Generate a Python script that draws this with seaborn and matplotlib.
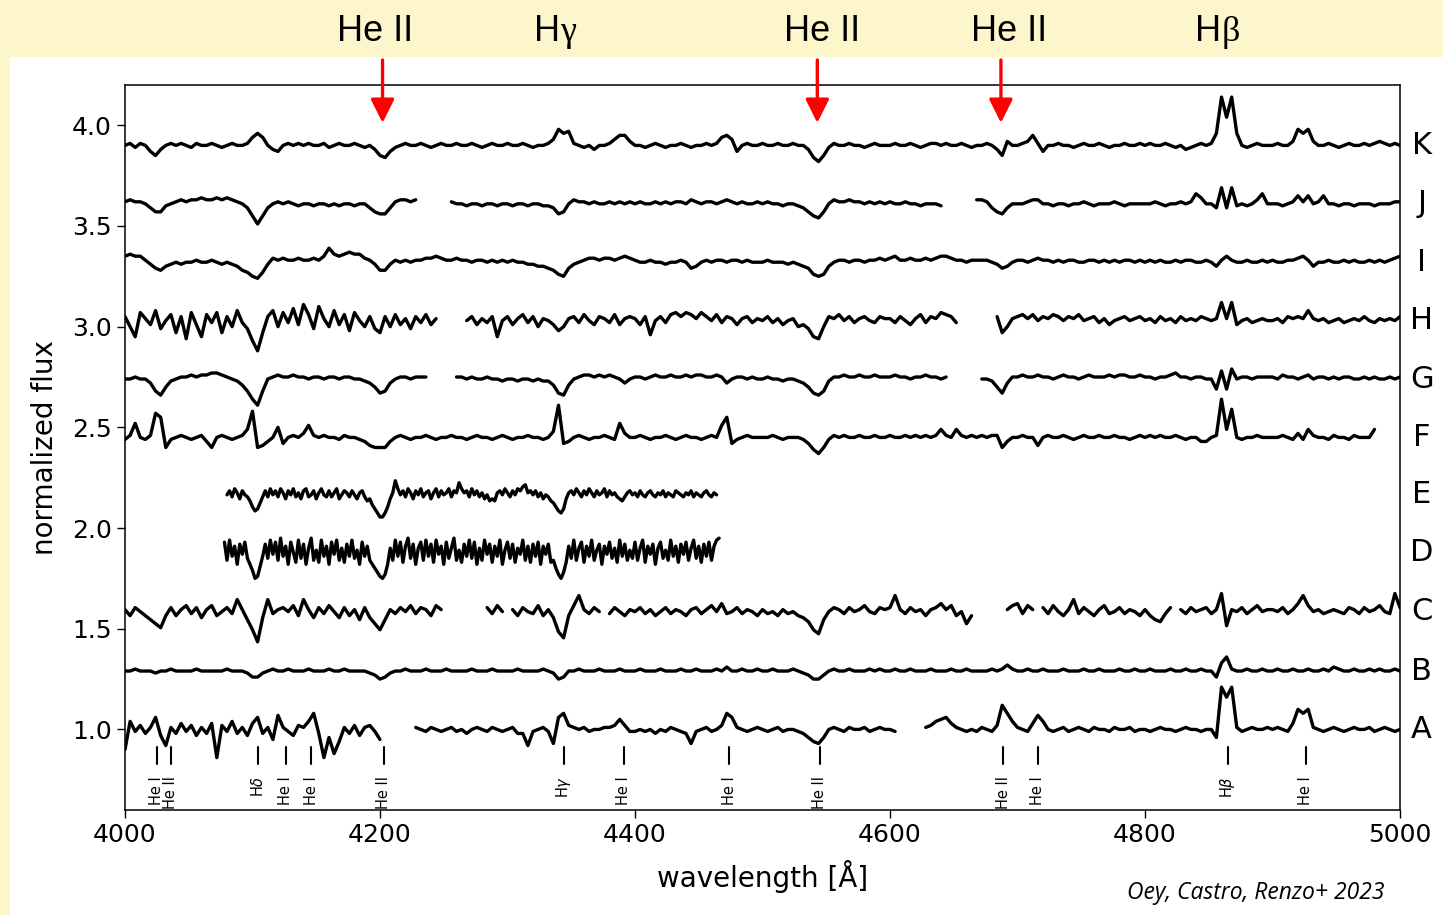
import numpy as np
import pandas as pd
import matplotlib
matplotlib.use("Agg")
import matplotlib.pyplot as plt
import matplotlib.transforms as mtransforms
from matplotlib.patches import Rectangle
import seaborn as sns

# ---------------------------------------------------------------------------
# Spectra: flux deviations from each star's offset level, in units of 0.01.
# Most stars are sampled every 4 Å from 4000 Å (one row per 100 Å);
# D and E are sampled every 2 Å over their shorter range.  None = no data.
# ---------------------------------------------------------------------------
WAVE_START = 4000.0
WAVE_STEP = 4.0
D_START, D_STEP = 4078.0, 2.0
E_START, E_STEP = 4080.0, 2.0

STARS = ["A", "B", "C", "D", "E", "F", "G", "H", "I", "J", "K"]
OFFSETS = [1.00, 1.29, 1.585, 1.88, 2.165, 2.45, 2.74, 3.03, 3.32, 3.61, 3.90]

FLUX_K = [
    0, 1, -1, 1, 0, -3, -5, -2, 0, 1, 0, 1, 0, -1, 1, 0, 0, 1, 0, -1, 0, 1, 0, 0, 1,
    4, 6, 4, 0, -2, -3, 0, 1, 0, 1, 0, 1, 0, 0, 1, -1, 0, 1, 0, 0, 1, 0, -1, 0, -2,
    -5, -6, -3, -1, 0, 1, 0, 0, 1, 0, -1, 0, 1, 0, 0, 1, 0, 0, 1, 0, -1, 0, 1, 0, 0,
    1, 0, 0, 1, 0, -1, 0, 0, 1, 3, 8, 6, 7, 1, 0, -1, 0, -2, 0, 0, 1, 3, 5, 5, 2,
    0, 0, -1, 0, 1, 0, -1, 0, 0, 1, 0, -1, 0, 0, 1, 0, 1, 4, 5, 3, -3, 0, 1, 0, 0,
    1, 0, 0, 1, 0, 0, 1, 0, 0, -2, -6, -8, -5, -1, 1, 0, 0, 1, 0, 0, -1, 0, 1, 0, 0,
    0, 1, 0, 0, 1, 0, -1, 0, 1, 1, 0, 1, 0, 0, 1, 0, -1, 0, 0, 1, 0, -2, -5, 2, 0,
    0, 1, 2, 5, 1, -3, 0, 0, 1, 0, 0, -1, 0, 1, 0, 0, 1, 0, -1, 0, 0, 1, 0, 0, 1,
    0, 1, 0, 0, 1, 0, -1, 0, -2, -1, 0, 1, 0, 1, 6, 24, 14, 24, 6, 0, -1, 0, 1, 0, 0,
    0, 1, 0, 0, 2, 8, 6, 8, 2, 0, 0, 1, 0, -1, 0, 1, 0, 0, 1, 0, 1, 2, 1, 0, 1,
    0,
]

FLUX_J = [
    1, 2, 1, 1, 0, -2, -4, -4, -1, 0, 1, 2, 1, 2, 2, 3, 2, 2, 3, 2, 3, 2, 1, 0, -2,
    -6, -10, -6, -2, 0, 1, 0, 1, 0, -1, 0, 0, -1, 0, 0, -1, 0, -1, 0, 0, -1, 0, 0, -2, -4,
    -5, -5, -2, 1, 2, 2, 1, 2, None, None, None, None, None, None, 1, 0, 0, -1, 0, 0, -1, 0, 0, -1, 0,
    0, -1, 0, 0, -1, 0, 0, -1, -1, -2, -5, -4, 0, 2, 1, 1, 0, 1, 0, 0, 1, 0, 1, 0, 1,
    0, 1, 0, 0, 1, 0, 1, 0, 1, 1, 0, 2, 1, 0, 1, 1, 0, 1, 2, 1, 0, 1, 0, 0, 1,
    0, 1, 0, 0, -1, 0, 0, -1, -2, -4, -6, -7, -4, 0, 2, 1, 1, 2, 1, 1, 0, 1, 0, 1, 0,
    1, 0, 0, 1, 0, 0, -1, 0, 0, 0, -1, None, None, None, None, None, None, 2, 2, 1, -2, -4, -5, -2, 0,
    0, 0, 1, 2, 2, 0, 0, -1, 0, 0, -1, 0, 0, 1, 0, -1, 0, 0, 0, 1, 0, -1, 0, 0, 0,
    0, 0, 1, 0, -1, 0, 0, 1, 0, 1, 5, 3, 0, 0, -2, 8, -2, 8, -1, 0, -1, 0, 2, 5, 0,
    0, 0, -1, 0, 1, 4, 1, 4, 0, 1, 4, 0, 0, -1, 0, 0, -1, 0, 0, 0, -1, 0, 0, 0, 1,
    1,
]

FLUX_I = [
    3, 4, 3, 3, 1, -1, -3, -4, -2, -1, 0, -1, 0, 0, 1, 0, 0, 1, 0, -1, 0, -1, -2, -4, -5,
    -7, -8, -5, -1, 2, 1, 2, 1, 1, 2, 1, 1, 2, 1, 3, 7, 4, 3, 4, 5, 4, 4, 2, 1, -1,
    -4, -4, -1, 1, 0, 1, 0, 1, 1, 2, 2, 3, 2, 1, 1, 2, 1, 1, 0, 1, 1, 0, 1, 0, 1,
    0, 1, 0, 0, -1, -1, -2, -2, -3, -4, -6, -7, -3, -1, 0, 1, 2, 2, 1, 2, 2, 1, 2, 3, 2,
    1, 0, 0, 1, 0, 0, -1, 0, 0, 1, 0, -3, -2, 0, 1, 0, 1, 1, 0, 1, 1, 0, 1, 0, 0,
    0, 1, 0, 0, 0, -1, 0, -1, -2, -3, -6, -7, -6, -2, 0, 1, 1, 0, 1, 1, 0, 1, 1, 2, 1,
    2, 3, 1, 1, 2, 1, 1, 2, 1, 2, 3, 3, 2, 1, 1, 0, 1, 1, 1, 1, 0, -1, -3, -2, 0,
    1, 1, 0, 1, 2, 1, 1, 0, 1, 0, 1, 1, 0, 0, 1, 1, 0, 1, 0, 1, 0, 1, 1, 0, 1,
    0, 1, 0, 1, 0, 0, 1, 0, 1, 1, 0, 0, 1, 0, -2, 1, 3, 1, 0, 0, 1, 0, 0, 1, 0,
    1, 0, 0, 1, 1, 2, 3, 1, -2, 0, 0, 1, 0, 0, 1, 0, 1, 0, 0, 1, 0, 1, 0, 1, 2,
    3,
]

FLUX_H = [
    2, -3, -8, 4, 1, -2, 5, -4, 0, 3, -6, 2, -9, 4, -2, -8, 3, -1, 4, -6, 2, -3, 5, -1, -4,
    -10, -15, -6, 2, 5, -3, 4, -1, 6, -2, 8, 3, -4, 7, 1, -3, 5, -2, 3, -5, 4, 0, -3, 2, -4,
    -6, 2, -3, 3, -2, 1, -4, 2, -1, 3, -2, 1, None, None, None, None, None, 0, 2, -2, 1, -1, 2, -8, 0,
    2, -2, 1, 3, -1, 2, -3, 1, 0, -2, -5, -3, 1, 2, -1, 3, 0, -2, 2, 1, -1, 3, -2, 1, 2,
    1, -2, 2, -7, 0, 2, -1, 3, 4, 2, 4, 3, 1, 4, 2, 0, 3, -1, 2, 1, -2, 1, 2, -1, 1,
    0, 2, -1, 1, -2, 0, 1, -3, -2, -4, -8, -9, -3, 2, 1, 3, 0, 2, -1, 1, 2, 0, -1, 2, 1,
    1, -1, 2, 0, -2, 1, 3, -1, 2, 1, 4, 3, 2, -1, None, None, None, None, None, None, None, 2, -6, -3, 1,
    2, 3, 1, 3, 0, 2, 1, 3, 2, 0, 2, 1, 3, 0, 1, 2, -1, 1, -2, 0, 1, 2, 0, 1, 2,
    0, 1, -1, 2, 0, 1, -1, 2, 0, 1, 0, 2, 1, 0, 1, 9, 1, 9, -2, 0, 1, -1, 0, 1, 0,
    0, 1, -1, 2, 1, 2, 1, 5, 1, 0, 1, -1, 0, 1, -1, 0, 1, 0, 2, 0, -1, 1, 0, 1, 0,
    2,
]

FLUX_G = [
    0, 0, 1, 0, 0, -2, -6, -8, -4, -1, 0, 1, 1, 2, 1, 2, 2, 3, 3, 2, 1, 0, -1, -3, -6,
    -10, -13, -6, 0, 1, 2, 1, 1, 2, 1, 1, 0, 1, 1, 0, 1, 1, 0, 1, 1, 0, 0, -1, -2, -4,
    -7, -6, -2, 0, 1, 1, 0, 1, 1, 1, None, None, None, None, None, 1, 1, 0, 1, 0, 0, 1, 0, 0, -1,
    0, 0, -1, 0, 0, -1, 0, -1, -1, -3, -7, -8, -3, 0, 1, 2, 2, 1, 2, 1, 2, 1, 0, -2, 0,
    1, 1, 0, 1, 2, 1, 1, 2, 1, 1, 2, 1, 2, 2, 1, 1, 2, 1, -2, 0, 1, 1, 0, 1, 0,
    0, 1, 0, 0, -1, 0, 0, -1, -2, -4, -7, -8, -6, -1, 1, 1, 2, 1, 1, 2, 1, 1, 2, 1, 1,
    1, 2, 1, 1, 0, 1, 1, 2, 1, 1, 0, 1, None, None, None, None, None, None, 0, 0, -1, -4, -7, -2, 1,
    1, 2, 1, 1, 2, 1, 1, 0, 1, 2, 1, 1, 0, 1, 2, 1, 1, 1, 2, 1, 2, 2, 1, 1, 2,
    1, 1, 0, 1, 1, 2, 3, 1, 1, 0, 1, 1, 0, 0, -5, 4, -5, 5, 0, 1, 1, 0, 1, 1, 1,
    1, 0, 2, 1, 1, 0, 1, 2, 0, 1, 1, 0, 1, 0, 1, 1, 0, 0, 1, 0, 1, 0, 0, 1, 0,
    1,
]

FLUX_F = [
    -1, 1, 7, 0, -1, 1, 12, 10, -5, -1, 0, 1, 0, -1, 0, 1, -2, -5, 0, 1, 0, -1, 0, 1, 4,
    13, -5, -4, -2, 0, 5, -3, 0, 1, 0, 2, 6, 1, 0, 1, 0, 0, -1, 1, 0, 0, -1, -2, -4, -5,
    -5, -5, -2, 0, 1, 0, -1, 0, 0, 1, 0, -1, 0, 0, 1, 0, 0, -1, 0, 1, 0, 0, -1, 0, 1,
    0, -1, 0, 0, 1, 0, 0, -1, 0, 3, 16, -3, -2, 0, 1, 0, -1, 0, 0, 1, 0, -1, 7, 2, 0,
    0, 1, 0, -1, 0, 0, 1, 0, -1, 0, 1, 0, 0, -1, 0, 1, 0, 6, 10, -3, -1, 0, 1, 0, 0,
    0, 0, 1, 0, -1, 0, 0, 0, -1, -3, -6, -8, -5, -1, 1, 0, 1, 0, 0, 1, 0, 0, 1, 0, 0,
    1, 0, 0, 1, 0, 1, 0, 1, 0, 1, 4, 1, 0, 4, 1, 0, 1, 0, 1, 0, 1, 1, -5, -2, 0,
    0, 1, 0, 0, -4, 0, 1, 0, 0, 1, 0, -1, 0, 1, 0, 0, 1, 0, 0, 1, 0, 0, -1, 0, 1,
    0, 1, 0, 1, 0, 0, 1, 0, -1, 0, 0, -2, -2, 0, 1, 19, 4, 14, 0, -1, 0, 0, 1, 0, 0,
    0, 0, 1, 0, -1, 2, -1, 4, 1, 0, 0, -1, 1, 0, 0, -1, 1, 0, 0, 0, 4, None, None, None, None,
    None,
]

# E: 4080-4464 Å, 2 Å steps (rows of 40 Å)
FLUX_E = [
    0, 2, -1, 3, 1, -2, 2, 0, -1, -3, -6, -8, -7, -4, -1, 2, -1, 3, 0, 2,
    -1, 3, 1, -2, 2, 0, 3, -1, 1, -2, 2, 3, -1, 0, 2, -2, 1, 3, 0, -1,
    2, -1, 1, 3, -2, 0, 2, 1, -1, 2, 0, -2, 1, 2, -1, -3, -2, -5, -7, -9,
    -11, -11, -9, -6, -2, 1, 7, 3, 0, 2, -1, 3, 1, -2, 2, 0, 3, -1, 1, 2,
    -2, 1, 3, -1, 2, 0, 1, 3, -1, 2, 1, 6, 3, 1, 2, -1, 3, 0, 2, -1,
    1, -2, 0, -3, -2, -3, 1, 2, 0, 3, 1, -1, 2, 0, 3, 2, 4, 5, 1, 2,
    0, 2, -1, 1, -2, 0, -1, -3, -4, -6, -8, -9, -7, -2, 1, 2, 0, 3, 1, -1,
    2, 0, 3, 1, -1, 2, 0, 1, 3, -1, 2, 0, 1, -1, -2, -3, -1, 1, 2, 0,
    1, -1, 2, 0, -1, 1, 2, 0, -1, 1, 0, 2, -1, 1, 0, -1, 2, 1, 0, -1,
    1, 0, 2, -1, 1, 0, -1, 1, 2, 0, -1, 1, 0,
]

# D: 4078-4466 Å, 2 Å steps (rows of 40 Å)
FLUX_D = [
    5, -4, 6, -2, 3, -6, 4, -1, 5, -3, -6, -9, -13, -12, -7, -2, 4, -3, 6, -1,
    5, -4, 7, -2, 3, -6, 5, 0, -5, 6, -3, 4, -6, 2, 7, -4, 1, -5, 6, -2,
    3, -6, 5, -1, 6, -4, 2, -5, 4, -2, 6, -3, 1, -6, 5, -2, 3, -4, -6, -8,
    -10, -12, -13, -11, -6, 2, -4, 6, -2, 5, -5, 3, 7, -3, 4, -6, 2, 5, -4, 6,
    -2, 4, -5, 6, -1, 3, -6, 5, -3, 2, 7, -4, 1, -5, 4, -2, 6, -3, 5, -6,
    2, -4, 6, -1, 4, -5, 3, -2, 6, -6, 1, 5, -3, 4, -5, 2, -1, 6, -4, 3,
    -5, 4, -2, 5, -6, 3, -1, 4, -5, -4, -8, -11, -13, -10, -5, 3, -3, 6, -4, 2,
    5, -5, 3, -2, 6, -4, 1, 4, -6, 3, -1, 5, -3, 2, -5, 6, -2, 4, -4, 1,
    -3, 5, -4, 2, 6, -5, 3, -1, 4, -6, 2, 5, -3, 1, -4, 6, -2, 3, -5, 4,
    -1, 5, -4, 2, 6, -3, 3, -5, 4, -2, 5, -4, 3, 6, 7,
]

FLUX_C = [
    1, -2, 2, 0, -2, -4, -6, -8, -2, 2, -2, 1, 3, -1, 2, -3, 1, 3, -2, 0, 2, -1, 6, 1, -4,
    -9, -15, -3, 6, -1, 1, 2, 0, 3, -2, 6, 1, -3, 2, -1, 3, 0, -3, 2, -2, 1, -4, 2, -3, -6,
    -9, -4, 1, -1, 2, 0, 3, -1, 2, 1, -2, 3, 1, None, None, None, None, None, None, None, None, 2, -1, 3, 0,
    None, 1, -2, 2, 0, -1, 3, -2, 1, -3, -10, -13, -2, 3, 8, 1, -1, 2, 0, None, -1, 2, 0, -2, 1,
    0, 2, -1, 1, -2, 0, 2, -1, 1, 0, -2, 1, 2, -1, 1, 3, 0, 4, -1, 0, 2, -1, 1, 0, -2,
    1, -1, 0, -2, 1, -1, 0, -2, -3, -5, -9, -11, -4, 0, 2, 1, -1, 2, 0, 1, 3, 0, -1, 2, 1,
    2, 8, 1, -1, 2, 0, 1, -2, 1, 2, 4, 1, 3, -2, 0, -6, -2, None, None, None, None, None, None, 1, 3,
    4, -1, 3, 1, None, 2, -1, 3, 0, -2, 1, 6, -1, 2, 0, -2, 1, 3, -1, 0, 2, -1, 1, 0, -2,
    1, -2, -4, -5, -1, 2, None, 1, -1, 2, 0, 1, 2, -1, 1, 9, -7, 1, 0, 2, -1, 1, 3, 0, 1,
    1, 0, 2, -1, 1, 4, 8, 3, 0, 1, -1, 0, 1, 0, -1, 2, 1, -1, 2, 0, 1, 3, 0, -1, 9,
    2,
]

FLUX_B = [
    0, 0, 1, 0, 0, 0, -1, 0, 0, 1, 0, 0, 0, 0, 1, 0, 0, 0, 0, 0, 1, 0, 0, 0, -1,
    -3, -3, -1, 0, 1, 0, 0, 1, 0, 0, 0, 1, 0, 0, 0, 1, 0, 0, 1, 0, 0, 0, 0, -1, -2,
    -4, -3, -1, 0, 0, 1, 0, 0, 0, 1, 0, 0, 0, 1, 0, 0, 0, 0, 1, 0, 0, 0, 1, 0, 0,
    0, 0, 1, 0, 0, 0, 0, 1, 0, -1, -4, -3, 0, 0, 1, 0, 0, 0, 1, 0, 0, 0, 1, 0, 0,
    0, 1, 0, 0, 0, 1, 0, 0, 0, 1, 0, 0, 1, 0, 0, 0, 1, 0, 2, 0, 0, 1, 0, 0, 1,
    0, 0, 1, 0, 0, 0, 1, 0, -1, -2, -4, -4, -2, 0, 1, 0, 0, 1, 0, 0, 0, 1, 0, 1, 0,
    0, 1, 0, 0, 1, 0, 0, 0, 1, 0, 0, 0, 1, 0, 0, 1, 0, 0, 0, 0, 1, 0, 1, 3, 1,
    0, 0, 1, 0, 0, 1, 0, 0, 0, 1, 0, 0, 0, 1, 0, 0, 1, 0, 0, 0, 1, 0, 0, 1, 0,
    0, 1, 0, 0, 0, 1, 0, 0, 1, 0, 0, 1, 0, 0, -3, 4, 7, 1, 0, 0, 1, 0, 0, 1, 0,
    0, 1, 0, 0, 1, 0, 0, 1, 0, 0, 1, 0, 2, 1, 0, 0, 1, 0, 0, 1, 0, 1, 0, 0, 1,
    0,
]

FLUX_A = [
    -10, 4, -1, 2, -2, 1, 6, -3, -8, 1, -2, 3, -1, 2, -3, 1, -2, 3, -14, 2, -1, 4, -2, 1, -3,
    3, 6, -2, 1, -5, 7, 1, -1, -3, 2, 1, 4, 8, -2, -14, -4, -12, -6, 1, -2, 2, -3, 1, 2, -1,
    -5, None, None, None, None, None, None, 1, 0, -1, 1, 0, -1, 0, 1, -1, 0, -2, 0, 1, 0, -1, 1, 0, -1,
    0, 1, -2, -2, -8, -1, 0, 1, -1, -7, 6, 8, 2, 1, 0, 1, -1, 0, 0, 1, 1, 2, 5, 2, -1,
    -1, 0, -1, 0, -2, 0, -1, 1, 0, -1, -2, -7, -1, 0, 1, -1, 0, 2, 8, 6, 1, 0, -1, 0, 1,
    0, -1, 0, 1, -1, 0, 0, -1, -2, -4, -6, -7, -4, 0, 1, 0, -1, 1, 0, 0, 1, -1, 0, 1, 0,
    0, -1, None, None, None, None, None, 1, 2, 4, 5, 6, 3, 1, 0, -1, 0, -1, 1, 0, -1, 2, 12, 8, 4,
    1, 0, -1, 3, 7, 4, 0, -1, 0, 1, -1, 0, 1, 0, -1, 1, 0, 0, -1, 1, 0, 0, 1, -1, 0,
    0, -1, 0, 1, 0, 0, -1, 0, 1, 0, 0, -1, 0, 0, -4, 21, 16, 21, 1, -1, 0, 1, 0, 0, 1,
    0, 1, 0, -1, 3, 10, 8, 10, 1, 0, -1, 0, 1, 0, -1, 0, 1, 0, 0, 1, -1, 0, 1, 0, -1,
    0,
]

# Line identifications along the bottom of the panel
ID_WAVES = [4025, 4036, 4104, 4126, 4146, 4203, 4344, 4391, 4474, 4545, 4689, 4716, 4865, 4926]
ID_NAMES = ["He I", "He II", r"H$\delta$", "He I", "He I", "He II", r"H$\gamma$",
            "He I", "He I", "He II", "He II", "He I", r"H$\beta$", "He I"]

# Diagnostic lines named in the header band
HEAD_WAVES = [4196, 4341, 4547, 4693, 4860]
HEAD_PLAIN = ["He II", "H", "He II", "He II", "H"]
HEAD_GREEK = ["", "γ", "", "", "β"]
ARROW_WAVES = [4202, 4543, 4687]

# ---------------------------------------------------------------------------
series = {
    "A": (FLUX_A, WAVE_START, WAVE_STEP), "B": (FLUX_B, WAVE_START, WAVE_STEP),
    "C": (FLUX_C, WAVE_START, WAVE_STEP), "D": (FLUX_D, D_START, D_STEP),
    "E": (FLUX_E, E_START, E_STEP), "F": (FLUX_F, WAVE_START, WAVE_STEP),
    "G": (FLUX_G, WAVE_START, WAVE_STEP), "H": (FLUX_H, WAVE_START, WAVE_STEP),
    "I": (FLUX_I, WAVE_START, WAVE_STEP), "J": (FLUX_J, WAVE_START, WAVE_STEP),
    "K": (FLUX_K, WAVE_START, WAVE_STEP),
}

rows = []
for star, offset in zip(STARS, OFFSETS):
    values, start, step = series[star]
    seg, in_gap = 0, True
    for i, v in enumerate(values):
        if v is None:
            in_gap = True
            continue
        if in_gap:
            seg += 1
            in_gap = False
        rows.append((f"{star}{seg}", start + step * i, offset + v / 100.0))
spectra = pd.DataFrame(rows, columns=["segment", "wavelength", "flux"])

sns.set_style("ticks", {"axes.edgecolor": "black", "xtick.color": "black",
                        "ytick.color": "black", "text.color": "black",
                        "axes.labelcolor": "black"})
plt.rcParams["font.family"] = ["DejaVu Sans"]

BAND = "#fdf5cb"
fig = plt.figure(figsize=(14.43, 9.15), dpi=100, facecolor=BAND)
fig.patches.append(Rectangle((10 / 1443, 0), 1.0, 1 - 57 / 915, transform=fig.transFigure,
                             facecolor="white", edgecolor="none", zorder=-5))
ax = fig.add_axes([125 / 1443, 1 - 810 / 915, 1275 / 1443, 725 / 915])
ax.set_facecolor("white")

sns.lineplot(data=spectra, x="wavelength", y="flux", units="segment", estimator=None,
             sort=False, color="black", linewidth=2.4, legend=False, ax=ax)

ax.set_xlim(4000, 5000)
ax.set_ylim(0.6, 4.2)
ax.set_xticks([4000, 4200, 4400, 4600, 4800, 5000])
ax.set_yticks([1.0, 1.5, 2.0, 2.5, 3.0, 3.5, 4.0])
ax.tick_params(labelsize=18, length=6, width=1.0)
for side in ax.spines.values():
    side.set_linewidth(1.1)
ax.set_xlabel("wavelength [Å]", fontsize=20, labelpad=9)
ax.set_ylabel("normalized flux", fontsize=20, labelpad=9)

# Star letters to the right of the panel
ytrans = ax.get_yaxis_transform()
for star, offset in zip(STARS, OFFSETS):
    ax.text(1.017, offset, star, transform=ytrans, fontsize=22,
            ha="center", va="center", clip_on=False)

# Line-identification ticks and labels
for w, name in zip(ID_WAVES, ID_NAMES):
    ax.plot([w, w], [0.826, 0.911], color="black", linewidth=1.5)
    ax.text(w, 0.77, name, rotation=90, ha="center", va="top", fontsize=10.5)

# Header labels and red arrows
head = mtransforms.blended_transform_factory(ax.transData, fig.transFigure)
for w, plain, greek in zip(HEAD_WAVES, HEAD_PLAIN, HEAD_GREEK):
    y = 1 - 41 / 915
    if greek:
        ax.text(w, y, plain, transform=head, fontsize=26, family="Liberation Sans",
                ha="right", va="baseline", clip_on=False)
        ax.text(w, y, greek, transform=head, fontsize=26, family="Liberation Serif",
                ha="left", va="baseline", clip_on=False)
    else:
        ax.text(w, y, plain, transform=head, fontsize=26, family="Liberation Sans",
                ha="center", va="baseline", clip_on=False)

for w in ARROW_WAVES:
    ax.annotate("", xy=(w, 4.012), xycoords="data",
                xytext=(w, 1 - 60 / 915), textcoords=head,
                arrowprops=dict(arrowstyle="-|>,head_length=0.72,head_width=0.36",
                                color="red", lw=2.4, mutation_scale=20,
                                shrinkA=0, shrinkB=0),
                annotation_clip=False)

fig.text(1256 / 1443, 1 - 893 / 915, "Oey, Castro, Renzo+ 2023", fontsize=16.5,
         family="Open Sans", style="italic", ha="center", va="center")

fig.savefig("out.png", dpi=100, facecolor=fig.get_facecolor())
